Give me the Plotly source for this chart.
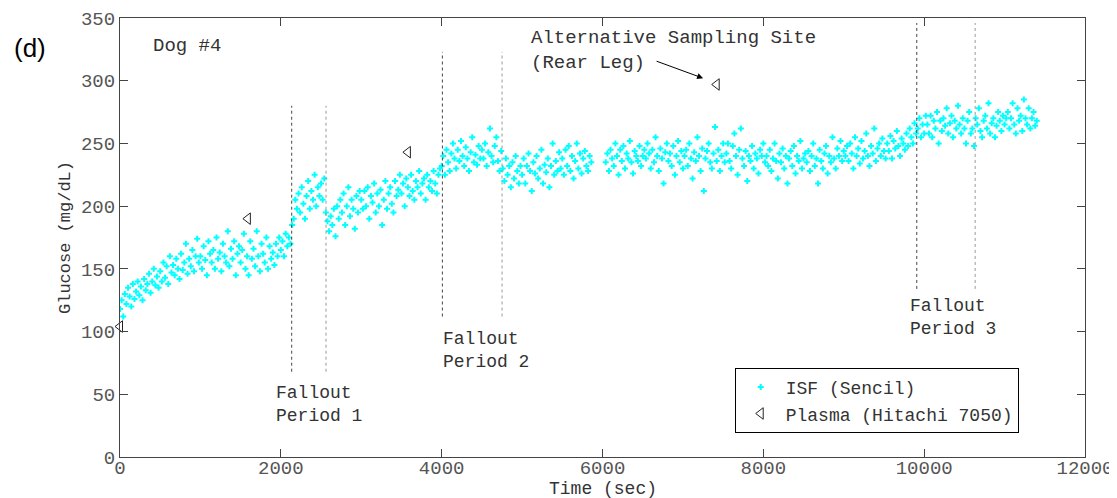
import plotly.graph_objects as go

# ---------------- data ----------------
SAMPLE_SEC = 20  # sensor sampling interval

# ISF (Sencil) run 1: starts at 0 s
isf_run1_start = 0
isf_run1_glucose = [
    118,125,112,130,122,135,128,120,138,126,132,140,129,136,125,142,133,138,146,131,140,150,137,144,135,
    148,140,155,143,152,138,160,147,153,145,158,150,142,162,149,155,170,146,158,152,165,148,160,174,155,
    160,150,168,157,145,172,162,155,165,150,175,158,163,148,170,160,155,180,152,166,158,172,145,162,168,
    155,165,178,150,160,145,172,158,166,152,180,160,148,170,162,155,175,150,168,158,163,153,170,160,175,
    165,172,160,178,168,175,170,185,190,205,198,210,195,215,202,190,208,220,198,212,205,225,200,215,208,
    218,205,222,195,188,180,192,185,198,176,200,190,205,195,210,185,200,215,192,205,198,182,208,195,212,
    205,198,212,200,215,190,208,203,218,195,210,200,213,185,205,220,198,210,215,202,195,220,208,213,225,
    210,218,200,222,215,208,225,212,205,220,215,228,210,218,222,205,225,215,220,212,228,218,210,225,230,
    232,240,225,245,235,228,242,250,238,230,245,236,252,240,232,247,238,228,243,255,235,241,233,248,238,
    245,238,250,232,243,262,240,235,248,255,236,228,244,230,220,238,225,232,215,235,222,240,228,218,232,
    225,238,218,232,242,228,212,235,226,240,222,230,245,218,233,227,238,215,232,250,225,236,228,243,230,
    238,225,245,232,248,228,240,222,236,250,230,242,226,238,244,232,228,240,235,
]

# ISF (Sencil) run 2: resumes after the gap
isf_run2_start = 6040
isf_run2_glucose = [
    235,242,228,245,238,232,250,240,225,245,236,248,230,242,238,252,235,226,244,240,236,248,232,240,245,
    238,250,242,230,245,235,255,240,228,246,238,218,243,250,236,242,232,248,225,240,252,235,244,230,240,
    245,232,250,238,222,243,236,255,240,228,246,212,238,244,250,235,230,242,263,236,245,228,240,250,235,
    242,250,236,230,248,258,240,225,245,262,238,232,244,220,240,236,248,230,242,238,226,245,240,250,235,
    240,232,245,228,238,250,236,222,242,235,246,230,240,218,238,244,232,248,226,240,236,252,230,238,242,
    235,244,228,240,250,232,238,218,245,236,230,242,248,226,240,235,255,238,230,246,240,252,236,244,240,
    248,236,250,242,230,255,240,246,234,252,238,244,258,240,232,248,242,262,236,246,250,240,254,244,238,
    250,244,256,238,252,246,260,248,240,254,250,245,258,248,262,255,250,266,258,262,270,255,265,258,272,
    265,258,272,255,268,262,275,250,268,260,270,264,278,258,266,272,255,268,262,280,265,258,270,262,250,
    268,275,258,262,248,270,265,278,260,255,268,272,262,282,258,266,270,255,264,275,268,260,272,265,270,
    275,262,270,282,265,258,278,268,272,260,285,270,265,278,262,270,275,264,268,
]

# Plasma (Hitachi 7050)
plasma_time = [0, 1590, 3580, 7420]
plasma_glucose = [104, 190, 243, 297]

# Fallout periods: start/end times and extent of the dotted markers
fallout_start = [2135, 4009, 9908]
fallout_end = [2562, 4751, 10634]
fallout_low = [68, 112, 134]
fallout_high = [280, 323, 346]
fallout_labels = ["Fallout<br>Period 1", "Fallout<br>Period 2", "Fallout<br>Period 3"]
fallout_label_x = [1915, 3993, 9801]
fallout_label_y = [42, 85, 111]

x_ticks = [0, 2000, 4000, 6000, 8000, 10000, 12000]
y_ticks = [0, 50, 100, 150, 200, 250, 300, 350]

# ---------------- build ----------------
isf_time = [isf_run1_start + i * SAMPLE_SEC for i in range(len(isf_run1_glucose))] + \
           [isf_run2_start + i * SAMPLE_SEC for i in range(len(isf_run2_glucose))]
isf_glucose = isf_run1_glucose + isf_run2_glucose

MONO = "Liberation Mono, Courier New, monospace"
TXT = "#333333"

fig = go.Figure()
fig.add_trace(go.Scatter(
    x=isf_time, y=isf_glucose, mode="markers", name="ISF (Sencil)",
    marker=dict(symbol="cross", size=5, color="#00FFFF", line=dict(width=0)),
))
fig.add_trace(go.Scatter(
    x=plasma_time, y=plasma_glucose, mode="markers", name="Plasma (Hitachi 7050)",
    marker=dict(symbol="triangle-left-open", size=10, color="#222222", line=dict(width=1)),
    cliponaxis=False,
))

for i in range(len(fallout_start)):
    for j, xv in enumerate((fallout_start[i], fallout_end[i])):
        fig.add_shape(type="line", xref="x", yref="y", x0=xv, x1=xv,
                      y0=fallout_low[i], y1=fallout_high[i],
                      line=dict(color="#444444" if j == 0 else "#999999", width=1, dash="dot"))
    fig.add_annotation(x=fallout_label_x[i], y=fallout_label_y[i], text=fallout_labels[i],
                       showarrow=False, xanchor="left", yanchor="middle", align="left",
                       font=dict(family=MONO, size=18, color=TXT))

fig.add_annotation(x=385, y=328, text="Dog #4", showarrow=False, xanchor="left",
                   yanchor="middle", font=dict(family=MONO, size=19, color=TXT))
fig.add_annotation(x=5087, y=324, text="Alternative Sampling Site<br>(Rear Leg)", showarrow=False,
                   xanchor="left", yanchor="middle", align="left",
                   font=dict(family=MONO, size=19, color=TXT))
fig.add_annotation(x=7251, y=302, ax=6654, ay=316, axref="x", ayref="y", xref="x", yref="y",
                   text="", showarrow=True, arrowhead=2, arrowsize=1.2, arrowwidth=1,
                   arrowcolor="#000000")
fig.add_annotation(x=-0.112, y=0.932, xref="paper", yref="paper", text="(d)", showarrow=False,
                   xanchor="left", yanchor="middle",
                   font=dict(family="Liberation Sans, Arial, sans-serif", size=26, color="#000000"))
# x-axis title placed explicitly below the tick labels
fig.add_annotation(x=0.5, y=-0.0729, xref="paper", yref="paper", text="Time (sec)",
                   showarrow=False, xanchor="center", yanchor="middle",
                   font=dict(family=MONO, size=18, color=TXT))

axis_common = dict(showline=True, linecolor="#444444", linewidth=1, mirror="ticks",
                   ticks="inside", ticklen=8, tickcolor="#444444", showgrid=False,
                   zeroline=False, automargin=False, ticklabeloverflow="allow",
                   tickfont=dict(family=MONO, size=19, color="#555555"))

# page body adds an 8 px offset; margins compensate so the plot box sits where the reference has it
fig.update_layout(
    width=1109, height=490,
    margin=dict(l=112, r=32, t=10, b=41),
    paper_bgcolor="white", plot_bgcolor="white",
    xaxis=dict(range=[0, 12000], tickvals=x_ticks, ticktext=[str(v) for v in x_ticks],
               ticklabelstandoff=-7, **axis_common),
    yaxis=dict(range=[0, 350], tickvals=y_ticks, ticktext=[str(v) for v in y_ticks],
               title=dict(text="Glucose (mg/dL)", font=dict(family=MONO, size=17, color=TXT), standoff=6),
               **axis_common),
    showlegend=True,
    legend=dict(x=0.637, y=0.203, xanchor="left", yanchor="top", itemwidth=40,
                bordercolor="#000000", borderwidth=1, bgcolor="white",
                font=dict(family=MONO, size=18, color=TXT)),
)

fig.write_html("out.html")
